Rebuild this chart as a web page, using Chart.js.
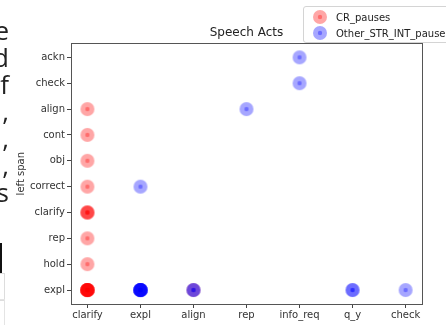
<!DOCTYPE html>
<html>
<head>
<meta charset="utf-8">
<script src="https://cdn.jsdelivr.net/npm/chart.js@4"></script>
<style>
  body { margin: 0; width: 446px; height: 325px; overflow: hidden; background: #fff; position: relative; font-family: 'DejaVu Sans', sans-serif; }
  #chart { position: absolute; left: 0; top: 0; }
  .doc { position: absolute; right: 437px; font-family: 'Open Sans', sans-serif; font-size: 26px; color: #222; line-height: 1; white-space: nowrap; }
  .bar { position: absolute; left: 0; top: 243px; width: 2px; height: 31px; background: #111; }
  .box { position: absolute; left: -1px; top: 273px; width: 4px; height: 26px; border: 1px solid #ddd; }
  .box2 { position: absolute; left: -1px; top: 299px; width: 4px; height: 30px; border: 1px solid #e4e4e4; }
  .legend { position: absolute; left: 303px; top: 6px; width: 170px; height: 35px; border: 1px solid #d4d4d4; border-radius: 3px; background: rgba(255,255,255,0.85); }
  .legend .row { position: absolute; left: 8px; height: 16px; display: flex; align-items: center; font-size: 10px; color: #222; }
  .legend canvas { margin-right: 8px; }
</style>
</head>
<body>
<canvas id="chart" width="446" height="325"></canvas>
<span class="doc" style="top:17px">e</span>
<span class="doc" style="top:44px">d</span>
<span class="doc" style="top:71px">f</span>
<span class="doc" style="top:98px">,</span>
<span class="doc" style="top:125px">,</span>
<span class="doc" style="top:152px">,</span>
<span class="doc" style="top:179px">s</span>
<div class="bar"></div>
<div class="box"></div>
<div class="box2"></div>
<div class="legend" id="legend"></div>
<script>
  'use strict';

  // axis categories
  const xLabels = ['clarify', 'expl', 'align', 'rep', 'info_req', 'q_y', 'check'];
  const yLabels = ['expl', 'hold', 'rep', 'clarify', 'correct', 'obj', 'cont', 'align', 'check', 'ackn'];

  // CR_pauses (how many pauses sit on each spot)
  const crX = ['clarify', 'clarify', 'clarify', 'clarify', 'clarify', 'clarify', 'clarify', 'clarify', 'align'];
  const crY = ['align', 'cont', 'obj', 'correct', 'clarify', 'rep', 'hold', 'expl', 'expl'];
  const crCount = [1, 1, 1, 1, 3, 1, 1, 8, 1];

  // Other_STR_INT_pauses
  const otherX = ['expl', 'expl', 'align', 'rep', 'info_req', 'info_req', 'q_y', 'check'];
  const otherY = ['correct', 'expl', 'expl', 'align', 'ackn', 'check', 'expl', 'expl'];
  const otherCount = [1, 8, 2, 1, 1, 1, 2, 1];

  const seriesNames = ['CR_pauses', 'Other_STR_INT_pauses'];

  // semi transparent dot with a darker core, stacks up like the matplotlib one
  function makeMarker(rgb) {
    const c = document.createElement('canvas');
    c.width = 16;
    c.height = 16;
    const g = c.getContext('2d');
    g.fillStyle = 'rgba(' + rgb + ',0.35)';
    g.beginPath();
    g.arc(8, 8, 7, 0, Math.PI * 2);
    g.fill();
    g.beginPath();
    g.arc(8, 8, 2.2, 0, Math.PI * 2);
    g.fill();
    return c;
  }

  function toPoints(xs, ys, counts) {
    const pts = [];
    xs.forEach((x, i) => {
      for (let k = 0; k < counts[i]; k++) {
        pts.push({ x: xLabels.indexOf(x), y: yLabels.indexOf(ys[i]) });
      }
    });
    return pts;
  }

  const redMarker = makeMarker('255,0,0');
  const blueMarker = makeMarker('0,0,255');

  // legend
  const legend = document.getElementById('legend');
  [[redMarker, seriesNames[0], 2], [blueMarker, seriesNames[1], 18]].forEach(([m, name, top]) => {
    const row = document.createElement('div');
    row.className = 'row';
    row.style.top = top + 'px';
    const mk = makeMarker(m === redMarker ? '255,0,0' : '0,0,255');
    row.appendChild(mk);
    row.appendChild(document.createTextNode(name));
    legend.appendChild(row);
  });

  // matplotlib style box round the plot
  const frame = {
    id: 'frame',
    afterDraw(chart) {
      const a = chart.chartArea;
      const ctx = chart.ctx;
      ctx.save();
      ctx.strokeStyle = '#555';
      ctx.lineWidth = 1;
      ctx.strokeRect(Math.round(a.left) + 0.5, Math.round(a.top) + 0.5,
        Math.round(a.right - a.left), Math.round(a.bottom - a.top));
      ctx.restore();
    }
  };

  const tickFont = { family: "'DejaVu Sans', sans-serif", size: 10 };

  new Chart(document.getElementById('chart'), {
    type: 'scatter',
    data: {
      datasets: [{
        label: seriesNames[0],
        data: toPoints(crX, crY, crCount),
        pointStyle: redMarker,
        pointRadius: 7,
        order: 2
      }, {
        label: seriesNames[1],
        data: toPoints(otherX, otherY, otherCount),
        pointStyle: blueMarker,
        pointRadius: 7,
        order: 1
      }]
    },
    plugins: [frame],
    options: {
      responsive: false,
      animation: false,
      layout: { padding: { left: 15, right: 24, top: 20, bottom: 0 } },
      plugins: {
        legend: { display: false },
        tooltip: { enabled: false },
        title: {
          display: true,
          text: 'Speech Acts',
          fullSize: false,
          color: '#222',
          font: { family: "'DejaVu Sans', sans-serif", size: 12, weight: 'normal' },
          padding: { top: 6, bottom: 3 }
        }
      },
      scales: {
        x: {
          type: 'linear',
          min: -0.31,
          max: 6.31,
          afterBuildTicks: s => { s.ticks = xLabels.map((_, i) => ({ value: i })); },
          afterFit: s => { s.height = 21; },
          border: { display: false },
          grid: { drawOnChartArea: false, drawTicks: true, tickLength: 4, color: '#444' },
          ticks: {
            font: tickFont,
            color: '#333',
            padding: 1,
            maxRotation: 0,
            autoSkip: false,
            callback: v => xLabels[v]
          }
        },
        y: {
          type: 'linear',
          min: -0.54,
          max: 9.54,
          afterBuildTicks: s => { s.ticks = yLabels.map((_, i) => ({ value: i })); },
          afterFit: s => { s.width = 56; },
          border: { display: false },
          grid: { drawOnChartArea: false, drawTicks: true, tickLength: 4, color: '#444' },
          title: {
            display: true,
            text: 'left span',
            color: '#333',
            font: tickFont,
            padding: 0
          },
          ticks: {
            font: tickFont,
            color: '#333',
            padding: 2,
            autoSkip: false,
            callback: v => yLabels[v]
          }
        }
      }
    }
  });
</script>
</body>
</html>
